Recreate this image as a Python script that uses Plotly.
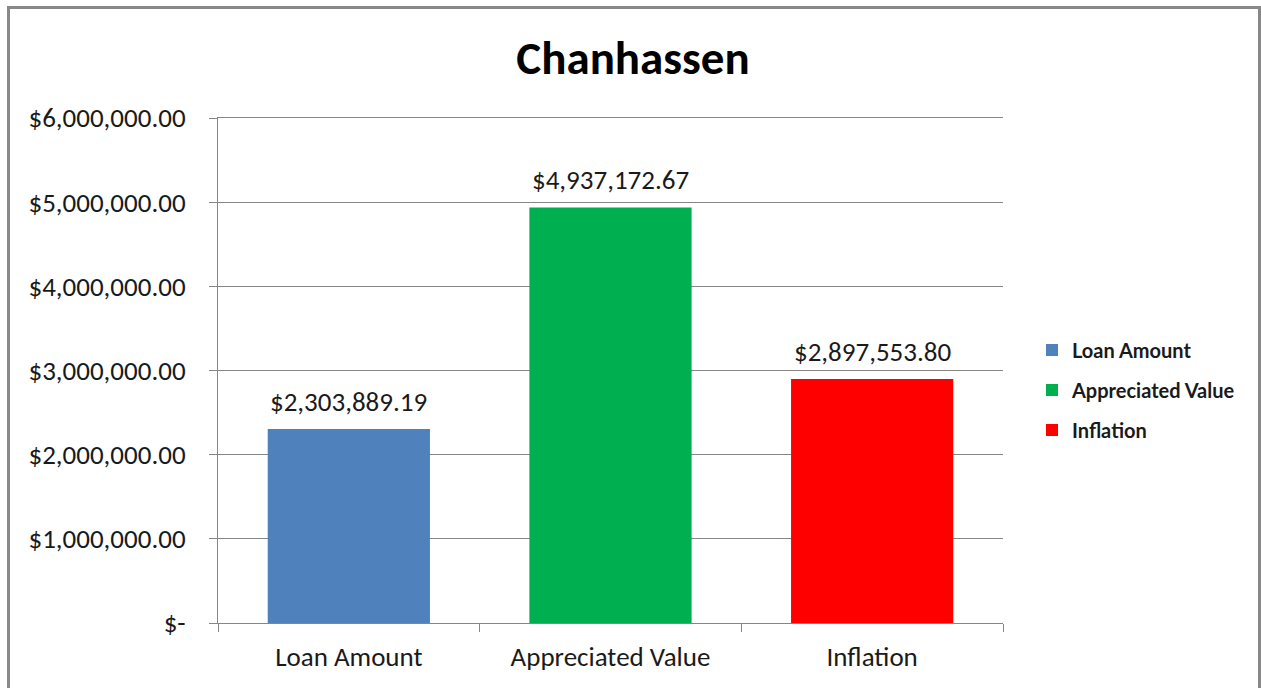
import plotly.graph_objects as go

categories = ["Loan Amount", "Appreciated Value", "Inflation"]
values = [2303889.19, 4937172.67, 2897553.80]
colors = ["#4F81BD", "#00B050", "#FF0000"]
tick_vals = [0, 1000000, 2000000, 3000000, 4000000, 5000000, 6000000]
tick_text = ["$-", "$1,000,000.00", "$2,000,000.00", "$3,000,000.00",
             "$4,000,000.00", "$5,000,000.00", "$6,000,000.00"]
title_text = "Chanhassen"

FONT = "Carlito, Lato, sans-serif"
TXT = "#1a1a1a"
W, H = 1261, 688
L, R, T, B = 218, 258, 118, 65
PW = W - L - R
PH = H - T - B

fig = go.Figure()
for i, (cat, val, col) in enumerate(zip(categories, values, colors)):
    fig.add_trace(go.Bar(
        x=[cat], y=[val], name=cat, marker=dict(color=col, line=dict(width=0)),
        width=0.62, legendgroup=cat, hoverinfo="x+y",
    ))
    fig.add_annotation(
        x=cat, y=val, text="${:,.2f}".format(val), showarrow=False,
        yanchor="bottom", yshift=9, font=dict(family=FONT, size=27, color=TXT),
    )

fig.update_layout(
    width=W, height=H,
    margin=dict(l=L, r=R, t=T, b=B, autoexpand=False),
    paper_bgcolor="white", plot_bgcolor="white",
    barmode="overlay",
    showlegend=True,
    title=dict(text="<b>" + title_text + "</b>", x=(633 - L) / PW, xref="paper",
               xanchor="center", y=1 - 58 / H, yanchor="middle",
               font=dict(family=FONT, size=47, color="black")),
    legend=dict(x=(1032 - L) / PW, y=(H - B - 390) / PH, xanchor="left", yanchor="middle",
                font=dict(family="Lato, sans-serif", size=20, color=TXT, weight="bold"),
                traceorder="grouped", tracegroupgap=11,
                itemwidth=30, bgcolor="rgba(0,0,0,0)"),
    xaxis=dict(type="category", categoryorder="array", categoryarray=categories,
               range=[-0.5, 2.5], showgrid=False, showline=True, mirror=True,
               linecolor="#868686", linewidth=1, ticks="outside",
               tickson="boundaries", ticklen=8, tickcolor="#868686",
               ticklabelstandoff=10,
               tickfont=dict(family=FONT, size=27, color=TXT), fixedrange=True),
    yaxis=dict(range=[0, 6000000], tickvals=tick_vals, ticktext=tick_text,
               showgrid=True, gridcolor="#868686", gridwidth=1,
               showline=True, linecolor="#868686", linewidth=1,
               ticks="outside", ticklen=8, tickcolor="#868686",
               ticklabelstandoff=18,
               tickfont=dict(family=FONT, size=27, color=TXT),
               zeroline=False, fixedrange=True),
    font=dict(family=FONT),
)

# outer chart border
fig.add_shape(type="rect", xref="paper", yref="paper",
              x0=(8.5 - L) / PW, x1=(1259.5 - L) / PW,
              y0=-0.3, y1=(H - B - 7.5) / PH,
              line=dict(color="#888888", width=3), fillcolor="rgba(0,0,0,0)",
              layer="below")

fig.write_html("out.html", config={"displayModeBar": False},
               post_script="document.body.style.margin='0';document.body.style.overflow='hidden';")
